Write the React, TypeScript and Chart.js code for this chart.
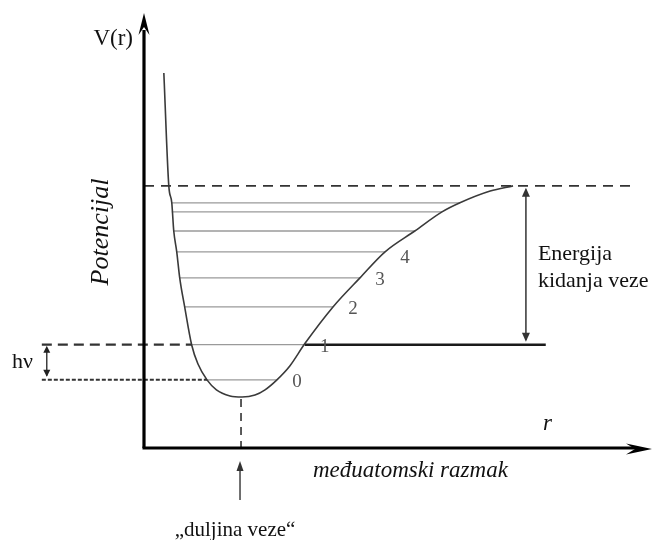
import React, { useEffect, useRef } from "react";
import { Chart, registerables } from "chart.js";

Chart.register(...registerables);

// Potential energy curve V(r) (arbitrary units)
const curveR = [0.2, 0.25, 0.28, 0.3, 0.33, 0.36, 0.41, 0.48, 0.543, 0.635, 0.73, 0.867, 0.988, 1.119, 1.22, 1.34, 1.47, 1.62, 1.905, 2.177, 2.43, 2.73, 3.004, 3.185, 3.49, 3.72];
const curveV = [8.64, 6.04, 5.65, 5.0, 4.52, 3.92, 3.25, 2.38, 1.94, 1.57, 1.34, 1.2, 1.175, 1.22, 1.34, 1.57, 1.89, 2.4, 3.25, 3.92, 4.52, 5.0, 5.44, 5.65, 5.92, 6.04];

// Vibrational levels
const levelV = [1.57, 2.38, 3.25, 3.92, 4.52, 5.0, 5.44, 5.65];
const levelLeftR = [0.635, 0.48, 0.41, 0.36, 0.33, 0.3, 0.28, 0.28];
const levelRightR = [1.34, 1.62, 1.905, 2.177, 2.43, 2.73, 3.004, 3.185];
const levelLabels = ["0", "1", "2", "3", "4"];

const dissociationV = 6.04;
const equilibriumR = 0.978;
const equilibriumV = 1.175;
const asymptoteEndR = 4.05;
const dashedEndR = 4.95;
const leftStartR = -1.03;
const hvArrowR = -0.98;
const energyArrowR = 3.85;

const FONT = "'Liberation Serif', 'Times New Roman', serif";

const annotations = {
  id: "annotations",
  afterDatasetsDraw(chart: any) {
    const ctx = chart.ctx as CanvasRenderingContext2D;
    const xs = chart.scales.x;
    const ys = chart.scales.y;
    const X = (v: number) => xs.getPixelForValue(v);
    const Y = (v: number) => ys.getPixelForValue(v);
    const ca = chart.chartArea;

    const line = (x1: number, y1: number, x2: number, y2: number, w: number, col: string, dash: number[] = []) => {
      ctx.save();
      ctx.beginPath();
      ctx.setLineDash(dash);
      ctx.lineWidth = w;
      ctx.strokeStyle = col;
      ctx.moveTo(x1, y1);
      ctx.lineTo(x2, y2);
      ctx.stroke();
      ctx.restore();
    };
    const head = (x: number, y: number, dir: "up" | "down" | "right", len: number, half: number, col: string, notch = 0) => {
      ctx.save();
      ctx.fillStyle = col;
      ctx.beginPath();
      if (dir === "up") {
        ctx.moveTo(x, y);
        ctx.lineTo(x - half, y + len);
        ctx.lineTo(x, y + len - notch);
        ctx.lineTo(x + half, y + len);
      } else if (dir === "down") {
        ctx.moveTo(x, y);
        ctx.lineTo(x - half, y - len);
        ctx.lineTo(x, y - len + notch);
        ctx.lineTo(x + half, y - len);
      } else {
        ctx.moveTo(x, y);
        ctx.lineTo(x - len, y - half);
        ctx.lineTo(x - len + notch, y);
        ctx.lineTo(x - len, y + half);
      }
      ctx.closePath();
      ctx.fill();
      ctx.restore();
    };
    const text = (s: string, x: number, y: number, size: number, opts: any = {}) => {
      ctx.save();
      ctx.font = `${opts.italic ? "italic " : ""}${size}px ${FONT}`;
      ctx.fillStyle = opts.color || "#111";
      ctx.textAlign = opts.align || "left";
      ctx.textBaseline = opts.baseline || "alphabetic";
      if (opts.rotate) {
        ctx.translate(x, y);
        ctx.rotate(opts.rotate);
        ctx.fillText(s, 0, 0);
      } else {
        ctx.fillText(s, x, y);
      }
      ctx.restore();
    };

    // dashed dissociation line
    line(X(0), Y(dissociationV), X(dashedEndR), Y(dissociationV), 1.6, "#333", [10, 7]);
    // level 1 dashed left
    line(X(leftStartR), Y(levelV[1]), X(levelLeftR[1]), Y(levelV[1]), 2.2, "#333", [10, 6]);
    // level 0 dotted left
    line(X(leftStartR), Y(levelV[0]), X(levelLeftR[0]), Y(levelV[0]), 2, "#333", [4, 2]);
    // vertical dashed from minimum
    line(X(equilibriumR), Y(equilibriumV) + 2, X(equilibriumR), ca.bottom, 1.6, "#333", [8, 6]);

    // hv double arrow
    const hx = X(hvArrowR);
    line(hx, Y(levelV[1]) + 4, hx, Y(levelV[0]) - 4, 1.3, "#222");
    head(hx, Y(levelV[1]) + 1, "up", 7, 3.5, "#222");
    head(hx, Y(levelV[0]) - 3, "down", 7, 3.5, "#222");

    // Energy double arrow
    const ex = X(energyArrowR);
    line(ex, Y(dissociationV) + 4, ex, Y(levelV[1]) - 5, 1.5, "#333");
    head(ex, Y(dissociationV) + 2, "up", 9, 4, "#333");
    head(ex, Y(levelV[1]) - 3, "down", 9, 4, "#333");

    // Axes
    line(ca.left, ca.bottom, ca.left, ca.top + 16, 3.2, "#000");
    head(ca.left, ca.top - 1, "up", 22, 5.5, "#000", 8);
    line(ca.left - 1.5, ca.bottom, ca.right - 2, ca.bottom, 3.2, "#000");
    head(ca.right + 12, ca.bottom + 1, "right", 26, 5.5, "#000", 9);

    // bond length arrow
    const bx = X(equilibriumR) - 1;
    line(bx, ca.bottom + 52, bx, ca.bottom + 20, 1.4, "#333");
    head(bx, ca.bottom + 13, "up", 10, 3.5, "#333");

    // level numbers
    levelLabels.forEach((lab, i) => {
      text(lab, X(levelRightR[i]) + 20, Y(levelV[i]) + 2 + (i === 4 ? 4 : 0), 19, { align: "center", baseline: "middle", color: "#555" });
    });

    // texts
    text("V(r)", ca.left - 11, ca.top + 31, 23, { align: "right" });
    text("Potencijal", 101, 232, 26, { italic: true, rotate: -Math.PI / 2, align: "center", baseline: "middle" });
    text("hν", 12, Y((levelV[0] + levelV[1]) / 2) + 6, 22);
    text("Energija", X(energyArrowR) + 12, 260, 22);
    text("kidanja veze", X(energyArrowR) + 12, 287, 22);
    text("r", 543, 430, 23, { italic: true });
    text("međuatomski razmak", 313, 477, 23, { italic: true });
    text("„duljina veze“", 235, 536, 21, { align: "center" });
  },
};

export default function App() {
  const ref = useRef<HTMLCanvasElement>(null);
  useEffect(() => {
    if (!ref.current) return;
    const levelSets = levelV.map((v, i) => ({
      data: [
        { x: levelLeftR[i], y: v },
        { x: levelRightR[i], y: v },
      ],
      showLine: true,
      borderColor: "#9a9a9a",
      borderWidth: 1.3,
      pointRadius: 0,
      clip: false as any,
    }));
    const chart = new Chart(ref.current, {
      type: "scatter",
      data: {
        datasets: [
          {
            data: curveR.map((r, i) => ({ x: r, y: curveV[i] })),
            showLine: true,
            borderColor: "#3a3a3a",
            borderWidth: 1.6,
            pointRadius: 0,
            cubicInterpolationMode: "monotone",
            clip: false as any,
          },
          ...levelSets,
          {
            data: [
              { x: levelRightR[1], y: levelV[1] },
              { x: asymptoteEndR, y: levelV[1] },
            ],
            showLine: true,
            borderColor: "#1a1a1a",
            borderWidth: 2.6,
            pointRadius: 0,
            clip: false as any,
          },
        ],
      },
      options: {
        animation: false,
        responsive: false,
        maintainAspectRatio: false,
        devicePixelRatio: 1,
        layout: { padding: { left: 144, top: 14, right: 19, bottom: 92 } },
        plugins: { legend: { display: false }, tooltip: { enabled: false } },
        events: [],
        scales: {
          x: { type: "linear", min: 0, max: 5, display: false },
          y: { type: "linear", min: 0, max: 10, display: false },
        },
      },
      plugins: [annotations],
    });
    return () => chart.destroy();
  }, []);
  return (
    <div style={{ position: "absolute", left: 0, top: 0, width: 659, height: 540, background: "#fff" }}>
      <canvas ref={ref} width={659} height={540} />
    </div>
  );
}
